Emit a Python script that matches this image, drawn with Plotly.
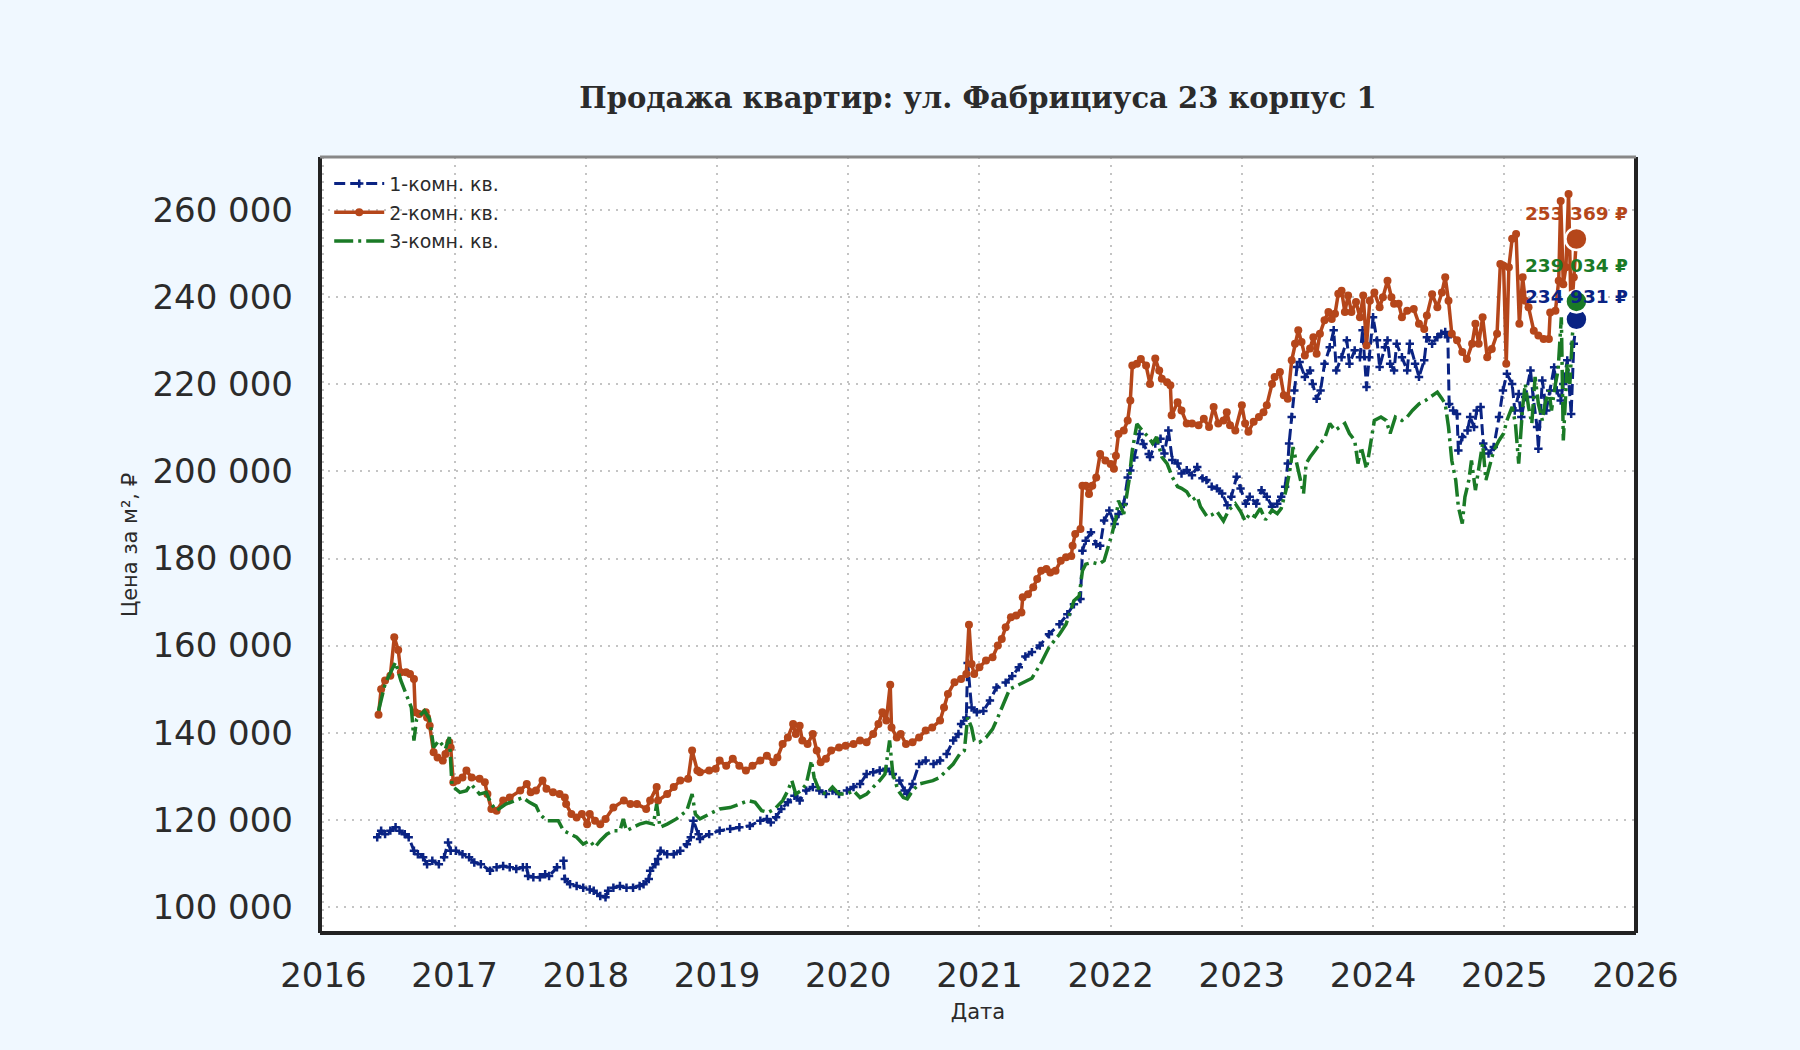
import plotly.graph_objects as go

# --- данные: дата (доля года) и цена за м²
one_room_x = [
    2016.41, 2016.44, 2016.47, 2016.51, 2016.55, 2016.58, 2016.62, 2016.65, 2016.69, 2016.72,
    2016.76, 2016.79, 2016.83, 2016.88, 2016.92, 2016.95, 2016.97, 2017.01, 2017.06, 2017.11,
    2017.15, 2017.20, 2017.27, 2017.32, 2017.37, 2017.42, 2017.47, 2017.52, 2017.55, 2017.56,
    2017.60, 2017.65, 2017.69, 2017.72, 2017.78, 2017.83, 2017.84, 2017.88, 2017.93, 2017.98,
    2018.03, 2018.06, 2018.11, 2018.15, 2018.17, 2018.21, 2018.26, 2018.31, 2018.36, 2018.41,
    2018.44, 2018.48, 2018.49, 2018.53, 2018.55, 2018.57, 2018.62, 2018.67, 2018.72, 2018.77,
    2018.80, 2018.82, 2018.86, 2018.87, 2018.94, 2019.02, 2019.10, 2019.17, 2019.25, 2019.33,
    2019.38, 2019.41, 2019.45, 2019.49, 2019.54, 2019.59, 2019.63, 2019.68, 2019.73, 2019.78,
    2019.83, 2019.88, 2019.93, 2019.99, 2020.04, 2020.09, 2020.14, 2020.19, 2020.24, 2020.29,
    2020.34, 2020.39, 2020.43, 2020.45, 2020.49, 2020.54, 2020.59, 2020.65, 2020.70, 2020.75,
    2020.80, 2020.84, 2020.86, 2020.90, 2020.91, 2020.94, 2020.98, 2021.03, 2021.08, 2021.13,
    2021.20, 2021.25, 2021.30, 2021.35, 2021.40, 2021.46, 2021.53, 2021.61, 2021.67, 2021.72,
    2021.77, 2021.785, 2021.81, 2021.85, 2021.89, 2021.92, 2021.95, 2021.99, 2022.03, 2022.06,
    2022.10, 2022.13, 2022.15, 2022.18, 2022.22, 2022.25, 2022.29, 2022.30, 2022.34, 2022.38,
    2022.41, 2022.44, 2022.47, 2022.51, 2022.54, 2022.58, 2022.62, 2022.66, 2022.70, 2022.73,
    2022.77, 2022.81, 2022.85, 2022.89, 2022.92, 2022.96, 2022.99, 2023.03, 2023.06, 2023.11,
    2023.15, 2023.19, 2023.23, 2023.27, 2023.30, 2023.33, 2023.35, 2023.36, 2023.38, 2023.40,
    2023.42, 2023.44, 2023.48, 2023.52, 2023.54, 2023.57, 2023.60, 2023.63, 2023.67, 2023.70,
    2023.72, 2023.76, 2023.80, 2023.82, 2023.86, 2023.90, 2023.92, 2023.95, 2023.97, 2024.00,
    2024.03, 2024.05, 2024.09, 2024.11, 2024.13, 2024.16, 2024.18, 2024.22, 2024.26, 2024.28,
    2024.32, 2024.35, 2024.39, 2024.41, 2024.45, 2024.49, 2024.52, 2024.55, 2024.57, 2024.58,
    2024.61, 2024.64, 2024.65, 2024.68, 2024.72, 2024.74, 2024.77, 2024.79, 2024.82, 2024.84,
    2024.88, 2024.92, 2024.96, 2024.99, 2025.02, 2025.06, 2025.08, 2025.11, 2025.13, 2025.16,
    2025.20, 2025.22, 2025.25, 2025.26, 2025.29, 2025.32, 2025.35, 2025.38, 2025.40, 2025.43,
    2025.45, 2025.48, 2025.51, 2025.53, 2025.55,
]
one_room_y = [
    116000, 117500, 116700, 117500, 118300, 117500, 116700, 116000, 112900, 112100,
    111400, 109800, 110600, 109800, 111400, 114800, 112900, 112900, 112100, 111400,
    110200, 109800, 108300, 109100, 109400, 109100, 108700, 109100, 109100, 107100,
    106800, 106800, 107500, 107100, 109100, 110600, 106400, 105200, 104800, 104400,
    104000, 103700, 102500, 102200, 103700, 104400, 104800, 104400, 104400, 104800,
    105200, 106400, 108300, 109800, 111000, 112900, 112100, 112100, 112900, 114400,
    116000, 119800, 116700, 115600, 116700, 117500, 117900, 118300, 118600, 119800,
    120200, 119400, 120600, 122500, 124000, 125500, 124400, 126700, 127500, 126700,
    125900, 126700, 125900, 126700, 127500, 128200, 130500, 130900, 131300, 131700,
    130500, 129000, 126700, 125900, 128200, 132800, 133600, 132800, 133600, 135100,
    138200, 139700, 142000, 143500, 156000, 145800, 144700, 145000, 147400, 150400,
    151500, 153000, 155000, 157500, 158500, 160000, 162600, 164900, 167200, 169500,
    170700, 181800, 184100, 186000, 183300, 182900, 188700, 191000, 187900, 190200,
    192500, 198600, 200200, 203200, 208600, 206300, 204000, 203300, 206400, 207500,
    204100, 209400, 202600, 201800, 199500, 200300, 199100, 201000, 198400, 198000,
    196500, 196100, 194900, 192200, 194200, 198800, 196100, 192600, 194200, 192600,
    195700, 194200, 191900, 192600, 194200, 196500, 201800, 206400, 212500, 218600,
    224000, 225100, 221700, 223200, 220100, 216700, 218600, 224700, 228500, 232400,
    223200, 226200, 230100, 224700, 227800, 226200, 232400, 219400, 226200, 235400,
    230100, 224000, 228500, 230100, 224700, 223200, 229300, 226200, 223200, 229300,
    224700, 221700, 225500, 230800, 229300, 230800, 231600, 232000, 230800, 215500,
    214000, 213200, 204800, 207900, 209400, 212500, 210200, 214000, 214800, 206400,
    204100, 205600, 212500, 218600, 222400, 220100, 214000, 217800, 212500, 217100,
    223200, 217100, 210200, 205200, 220900, 214000, 218600, 223900, 218600, 216300,
    220100, 225500, 213200, 229300, 234931,
]

two_room_x = [
    2016.42, 2016.44, 2016.47, 2016.51, 2016.54, 2016.57, 2016.59, 2016.63, 2016.66, 2016.69,
    2016.70, 2016.73, 2016.78, 2016.79, 2016.81, 2016.84, 2016.87, 2016.91, 2016.93, 2016.96,
    2016.97, 2016.99, 2017.02, 2017.06, 2017.09, 2017.13, 2017.19, 2017.23, 2017.25, 2017.28,
    2017.32, 2017.37, 2017.42, 2017.50, 2017.55, 2017.58, 2017.62, 2017.67, 2017.70, 2017.75,
    2017.80, 2017.84, 2017.85, 2017.89, 2017.93, 2017.97, 2018.01, 2018.03, 2018.07, 2018.11,
    2018.15, 2018.21, 2018.29, 2018.34, 2018.39, 2018.46, 2018.49, 2018.54, 2018.55, 2018.62,
    2018.67, 2018.72, 2018.78, 2018.81, 2018.85, 2018.87, 2018.94, 2018.99, 2019.02, 2019.07,
    2019.12, 2019.17, 2019.22, 2019.27, 2019.33, 2019.38, 2019.43, 2019.46, 2019.50, 2019.54,
    2019.58, 2019.60, 2019.63, 2019.65, 2019.69, 2019.73, 2019.76, 2019.79, 2019.83, 2019.87,
    2019.93, 2019.98, 2020.04, 2020.09, 2020.14, 2020.19, 2020.23, 2020.26, 2020.29, 2020.32,
    2020.33, 2020.37, 2020.40, 2020.44, 2020.49, 2020.54, 2020.59, 2020.64, 2020.70, 2020.73,
    2020.76, 2020.81, 2020.86, 2020.90, 2020.92, 2020.94, 2020.96, 2021.00, 2021.05, 2021.10,
    2021.14, 2021.17, 2021.20, 2021.24, 2021.28, 2021.32, 2021.33, 2021.37, 2021.41, 2021.44,
    2021.47, 2021.51, 2021.54, 2021.58, 2021.62, 2021.66, 2021.70, 2021.71, 2021.73, 2021.77,
    2021.785, 2021.81, 2021.835, 2021.86, 2021.89, 2021.92, 2021.96, 2022.00, 2022.025, 2022.04,
    2022.06, 2022.10, 2022.13, 2022.15, 2022.165, 2022.20, 2022.23, 2022.27, 2022.30, 2022.34,
    2022.37, 2022.39, 2022.43, 2022.455, 2022.465, 2022.51, 2022.54, 2022.58, 2022.62, 2022.67,
    2022.71, 2022.75, 2022.785, 2022.82, 2022.86, 2022.885, 2022.91, 2022.95, 2023.00, 2023.025,
    2023.05, 2023.09, 2023.13, 2023.165, 2023.19, 2023.23, 2023.25, 2023.29, 2023.32, 2023.35,
    2023.38, 2023.405, 2023.43, 2023.455, 2023.48, 2023.52, 2023.545, 2023.57, 2023.595, 2023.63,
    2023.66, 2023.685, 2023.71, 2023.735, 2023.76, 2023.785, 2023.81, 2023.835, 2023.87, 2023.90,
    2023.925, 2023.95, 2023.975, 2024.01, 2024.05, 2024.075, 2024.11, 2024.14, 2024.16, 2024.195,
    2024.22, 2024.26, 2024.31, 2024.35, 2024.39, 2024.41, 2024.45, 2024.49, 2024.525, 2024.55,
    2024.575, 2024.60, 2024.64, 2024.68, 2024.715, 2024.755, 2024.78, 2024.805, 2024.835, 2024.87,
    2024.905, 2024.945, 2024.97, 2024.995, 2025.015, 2025.035, 2025.06, 2025.09, 2025.115, 2025.14,
    2025.16, 2025.185, 2025.225, 2025.26, 2025.30, 2025.34, 2025.35, 2025.39, 2025.415, 2025.43,
    2025.45, 2025.47, 2025.49, 2025.51, 2025.53, 2025.55,
]
two_room_y = [
    144100, 150000, 152000, 153100, 161900, 159000, 153900, 153900, 153500, 152300,
    144700, 144300, 144700, 143500, 141600, 135500, 134300, 133600, 135100, 137800,
    136600, 128600, 129000, 129700, 131300, 129700, 129400, 128600, 125900, 122500,
    122100, 124400, 125100, 126700, 128200, 126300, 126700, 129000, 127100, 126300,
    125900, 125100, 123600, 121300, 120500, 121300, 119000, 121300, 119800, 119000,
    120200, 122800, 124400, 123600, 123600, 122500, 124400, 127500, 124400, 125900,
    127500, 129000, 129400, 135900, 131300, 130900, 131300, 131700, 133600, 132400,
    134000, 132400, 131300, 132400, 133600, 134700, 133200, 134300, 137400, 138900,
    142000, 139700, 141600, 138200, 137400, 139700, 135900, 133200, 134000, 135900,
    136600, 137000, 137400, 138200, 137800, 139700, 142000, 144700, 142800, 151000,
    141200, 138900, 139700, 137400, 137800, 138900, 140500, 141200, 142800, 145800,
    148900, 151600, 152300, 153500, 164800, 155800, 153500, 155000, 156600, 157300,
    160000, 161500, 164200, 166500, 166900, 167600, 171100, 171800, 173400, 175300,
    177200, 177600, 176800, 177200, 179500, 180300, 180600, 182900, 185600, 186800,
    196700, 196700, 194800, 196700, 198600, 204000, 202500, 201700, 200600, 203600,
    208600, 209400, 211700, 216300, 224300, 224700, 225800, 224300, 220100, 225900,
    223200, 221300, 220500, 219800, 212900, 215900, 214000, 211000, 211000, 210600,
    212100, 210200, 214800, 211000, 211700, 213600, 210600, 209400, 215200, 211000,
    209100, 211400, 212500, 213600, 215200, 220100, 221700, 222800, 217500, 216700,
    225500, 229300, 232400, 229700, 226600, 228200, 230800, 227000, 231600, 234700,
    236600, 235000, 236200, 240800, 241500, 236600, 240400, 236600, 238900, 235400,
    240400, 228900, 239200, 241100, 237700, 240000, 243800, 240000, 238500, 238500,
    235400, 236900, 237300, 233900, 232700, 235800, 240700, 237700, 241100, 244600,
    239200, 231600, 230100, 227400, 225800, 229300, 233900, 229300, 235400, 226200,
    228100, 231600, 247600, 247200, 224700, 246900, 253400, 254500, 233900, 244600,
    239200, 237700, 232300, 231200, 230400, 230400, 236500, 236900, 243800, 262100,
    243000, 246900, 263700, 235400, 244600, 253369,
]

three_room_x = [
    2016.42, 2016.47, 2016.55, 2016.59, 2016.63, 2016.67, 2016.69, 2016.71, 2016.77, 2016.81,
    2016.84, 2016.88, 2016.93, 2016.96, 2016.98, 2017.04, 2017.09, 2017.125, 2017.19, 2017.24,
    2017.28, 2017.32, 2017.39, 2017.47, 2017.52, 2017.57, 2017.62, 2017.65, 2017.70, 2017.75,
    2017.79, 2017.83, 2017.88, 2017.93, 2017.98, 2018.03, 2018.07, 2018.11, 2018.16, 2018.21,
    2018.26, 2018.285, 2018.31, 2018.36, 2018.41, 2018.46, 2018.515, 2018.54, 2018.565, 2018.62,
    2018.69, 2018.77, 2018.81, 2018.835, 2018.87, 2018.94, 2019.02, 2019.10, 2019.17, 2019.24,
    2019.29, 2019.34, 2019.39, 2019.44, 2019.50, 2019.54, 2019.57, 2019.60, 2019.64, 2019.68,
    2019.72, 2019.74, 2019.78, 2019.83, 2019.88, 2019.93, 2019.99, 2020.04, 2020.09, 2020.14,
    2020.19, 2020.24, 2020.28, 2020.315, 2020.34, 2020.38, 2020.42, 2020.45, 2020.49, 2020.54,
    2020.59, 2020.645, 2020.695, 2020.745, 2020.80, 2020.85, 2020.885, 2020.91, 2020.94, 2020.96,
    2021.00, 2021.05, 2021.10, 2021.14, 2021.23, 2021.30, 2021.40, 2021.47, 2021.53, 2021.61,
    2021.66, 2021.72, 2021.76, 2021.785, 2021.81, 2021.86, 2021.91, 2021.95, 2021.975, 2022.01,
    2022.04, 2022.06, 2022.10, 2022.14, 2022.165, 2022.20, 2022.24, 2022.29, 2022.32, 2022.35,
    2022.39, 2022.43, 2022.47, 2022.51, 2022.54, 2022.58, 2022.62, 2022.66, 2022.685, 2022.735,
    2022.77, 2022.81, 2022.86, 2022.90, 2022.95, 2022.99, 2023.025, 2023.06, 2023.10, 2023.14,
    2023.18, 2023.23, 2023.27, 2023.30, 2023.34, 2023.37, 2023.39, 2023.42, 2023.44, 2023.47,
    2023.49, 2023.52, 2023.56, 2023.595, 2023.63, 2023.67, 2023.71, 2023.75, 2023.785, 2023.82,
    2023.86, 2023.885, 2023.91, 2023.95, 2023.99, 2024.01, 2024.06, 2024.10, 2024.13, 2024.17,
    2024.22, 2024.26, 2024.30, 2024.35, 2024.40, 2024.45, 2024.49, 2024.525, 2024.55, 2024.575,
    2024.60, 2024.63, 2024.65, 2024.68, 2024.70, 2024.73, 2024.75, 2024.78, 2024.805, 2024.835,
    2024.86, 2024.89, 2024.92, 2024.96, 2024.995, 2025.02, 2025.06, 2025.085, 2025.11, 2025.14,
    2025.16, 2025.185, 2025.21, 2025.235, 2025.26, 2025.29, 2025.31, 2025.34, 2025.36, 2025.39,
    2025.41, 2025.435, 2025.45, 2025.48, 2025.50, 2025.52, 2025.55,
]
three_room_y = [
    145000, 151200, 156200, 152000, 148900, 145800, 138200, 143100, 145000, 143100,
    136600, 138200, 136300, 139000, 127800, 126300, 126700, 128200, 125900, 126300,
    123600, 122100, 123600, 124400, 125100, 124000, 123200, 121300, 119800, 119800,
    119800, 117500, 116700, 116000, 114400, 115200, 113700, 115200, 116700, 117500,
    117500, 120200, 117500, 118300, 119000, 119400, 119000, 123600, 118300, 119000,
    120200, 122100, 125900, 121300, 120200, 121300, 122500, 122800, 123600, 124400,
    124000, 122100, 121700, 122500, 124400, 126700, 129000, 125900, 126700, 128200,
    133600, 129700, 126700, 125900, 127500, 125900, 125900, 126700, 125100, 125900,
    127500, 129000, 130500, 138200, 130500, 126700, 125100, 124800, 126700, 128200,
    128600, 129000, 129700, 131300, 132800, 135100, 135900, 143500, 141200, 138200,
    137800, 138900, 140800, 143500, 150000, 151000, 152500, 156000, 159600, 162600,
    164900, 170300, 171400, 177200, 178700, 179100, 178700, 179500, 181800, 185600,
    189400, 193300, 190200, 197900, 204800, 210900, 209400, 207800, 206400, 207900,
    203300, 201800, 198700, 196500, 196100, 195300, 193400, 194200, 191900, 189600,
    190000, 190800, 188600, 191100, 192600, 190800, 188600, 190300, 189600, 191500,
    188900, 191100, 190300, 191500, 196100, 201000, 205600, 201800, 199500, 194900,
    201800, 203300, 204900, 206400, 207500, 211000, 209400, 210200, 211000, 208700,
    207100, 201800, 205600, 200600, 208700, 211700, 212500, 211700, 208700, 212500,
    211700, 212500, 214000, 215500, 216300, 217400, 218200, 216700, 215500, 210200,
    202500, 198000, 191900, 188000, 194100, 198000, 202500, 195700, 200300, 206400,
    198000, 201800, 204800, 207100, 208700, 211700, 214800, 211000, 201800, 214800,
    220100, 214800, 211000, 221700, 215500, 211700, 215500, 218600, 214000, 220100,
    223200, 235400, 207100, 224700, 220100, 231600, 239034,
]

series_names = ["1-комн. кв.", "2-комн. кв.", "3-комн. кв."]
series_colors = ["#0a2383", "#b5461a", "#1a7a26"]
y_ticks = [100000, 120000, 140000, 160000, 180000, 200000, 220000, 240000, 260000]
x_ticks = [2016, 2017, 2018, 2019, 2020, 2021, 2022, 2023, 2024, 2025, 2026]

FONT = "DejaVu Sans"
TEXT = "#2b2b2b"


def rub(v):
    return f"{v:,.0f}".replace(",", " ") + " ₽"


fig = go.Figure()

fig.add_trace(go.Scatter(
    x=one_room_x, y=one_room_y, name=series_names[0], mode="lines+markers", legendgroup="a",
    line=dict(color=series_colors[0], width=3, dash="11px,5px"),
    marker=dict(symbol="cross-thin", size=6, line=dict(color=series_colors[0], width=2.5)),
))
fig.add_trace(go.Scatter(
    x=two_room_x, y=two_room_y, name=series_names[1], mode="lines+markers", legendgroup="b",
    line=dict(color=series_colors[1], width=3.5),
    marker=dict(symbol="circle", size=8, color=series_colors[1]),
))
fig.add_trace(go.Scatter(
    x=three_room_x, y=three_room_y, name=series_names[2], mode="lines", legendgroup="c",
    line=dict(color=series_colors[2], width=3.5, dash="19px,5px,3px,5px"),
))

# последние значения: крупная точка + подпись
ends = [(one_room_x, one_room_y, 23), (two_room_x, two_room_y, 26), (three_room_x, three_room_y, 36)]
for (xs, ys, shift), color in zip(ends, series_colors):
    fig.add_trace(go.Scatter(
        x=[xs[-1]], y=[ys[-1]], mode="markers", showlegend=False,
        marker=dict(size=22, color=color, line=dict(color="white", width=2.5)),
    ))
    fig.add_annotation(
        x=xs[-1], y=ys[-1], text=rub(ys[-1]), showarrow=False, yshift=shift,
        font=dict(family=FONT, size=18.5, color=color, weight="bold"),
    )

# рамка: верх серый, остальные стороны тёмные
frame = [
    (0, 0, 0, 1, "#222222", 4), (0, 0, 1, 0, "#222222", 4),
    (1, 0, 1, 1, "#222222", 4), (0, 1, 1, 1, "#888888", 3),
]
for x0, y0, x1, y1, c, w in frame:
    fig.add_shape(type="line", xref="paper", yref="paper", x0=x0, y0=y0, x1=x1, y1=y1,
                  line=dict(color=c, width=w))

fig.update_layout(
    width=1800, height=1050,
    margin=dict(l=320, r=164, t=157, b=117),
    paper_bgcolor="#f0f8ff", plot_bgcolor="white",
    separators=", ",
    font=dict(family=FONT, color=TEXT),
    title=dict(
        text="Продажа квартир: ул. Фабрициуса 23 корпус 1",
        x=0.5, xref="paper", xanchor="center", y=1 - 98 / 1050, yref="container", yanchor="middle",
        font=dict(family="DejaVu Serif", size=29, weight="bold", color=TEXT),
    ),
    legend=dict(
        x=0.007, y=0.99, xanchor="left", yanchor="top", bgcolor="rgba(255,255,255,0)",
        font=dict(family=FONT, size=19, color=TEXT), tracegroupgap=1, itemwidth=50,
    ),
    showlegend=True,
)

grid = dict(showgrid=True, gridcolor="#c4c4c4", griddash="2px,6px", gridwidth=2,
            zeroline=False, showline=False, ticks="")
fig.update_xaxes(
    range=[2015.974, 2026.004], tickvals=x_ticks, tickformat="d", ticklabelstandoff=19,
    tickfont=dict(family=FONT, size=34, color=TEXT),
    title=dict(text="Дата", font=dict(family=FONT, size=21, color=TEXT), standoff=10),
    **grid,
)
fig.update_yaxes(
    range=[94000, 272200], tickvals=y_ticks, tickformat=",d", ticklabelstandoff=26,
    tickfont=dict(family=FONT, size=34, color=TEXT),
    title=dict(text="Цена за м², ₽", font=dict(family=FONT, size=21, color=TEXT), standoff=9),
    **grid,
)

fig.write_html("out.html", config={"displayModeBar": False},
               post_script="document.body.style.margin = '0px';")
